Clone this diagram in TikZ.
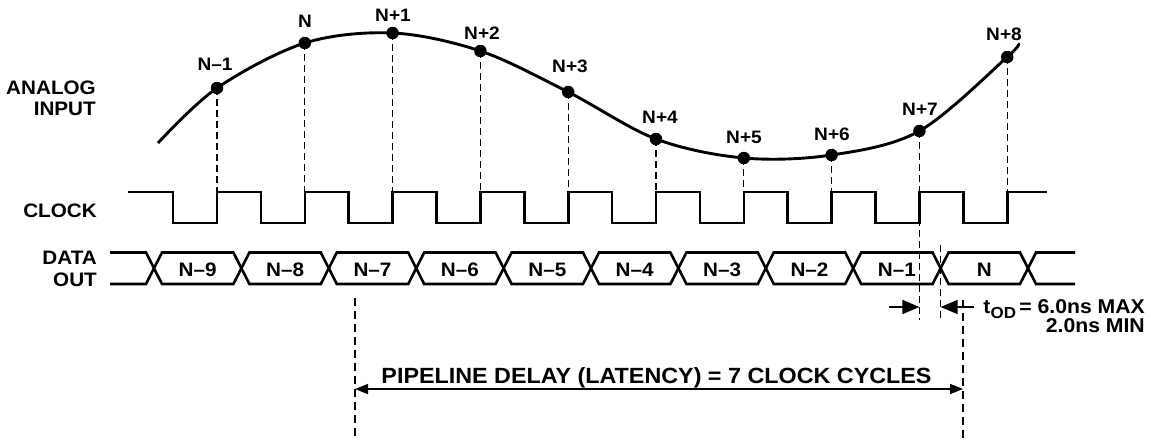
\documentclass[tikz,border=0pt]{standalone}
\usepackage{fontspec}
\setmainfont[FakeStretch=1.06]{Liberation Sans}
\usetikzlibrary{arrows.meta}
\begin{document}
\begin{tikzpicture}[x=1pt,y=-1pt,line join=miter,
  sidelbl/.style={font=\bfseries\fontsize{19.5}{22}\selectfont,inner sep=0pt,anchor=east},
  buslbl/.style={font=\bfseries\fontsize{19.5}{22}\selectfont,inner sep=0pt},
  smplbl/.style={font=\bfseries\fontsize{18}{20}\selectfont,inner sep=0pt},
  sig/.style={line width=2.6pt},
  wave/.style={line width=2.9pt},
  guide/.style={line width=1.2pt,dash pattern=on 7pt off 4pt},
  bigguide/.style={line width=1.7pt,dash pattern=on 8pt off 5pt},
  dot/.style={circle,fill=black,inner sep=0pt,minimum size=12.5pt},
  bigtip/.style={-{Triangle[length=17pt,width=14pt]}},
  ]
\useasboundingbox[fill=white] (0,0) rectangle (1151,440);

% side labels
\node[sidelbl] (analog) at (96,88) {ANALOG};
\node[sidelbl] (input) at (96,108.5) {INPUT};
\node[sidelbl] (clock) at (97,211) {CLOCK};
\node[sidelbl] (data) at (97,257.5) {DATA};
\node[sidelbl] (out) at (97,279.5) {OUT};

% analog waveform
\draw[wave] plot[smooth,tension=0.55] coordinates {(158,143) (217,88) (304.8,43) (392.6,33) (480.4,51) (568.2,92) (656,139) (743.8,158) (831.6,155) (919.4,131) (1007.2,57) (1018,44)};

% sample dots
\node[dot] (s0) at (217,88) {};
\node[dot] (s1) at (304.8,43) {};
\node[dot] (s2) at (392.6,33) {};
\node[dot] (s3) at (480.4,51) {};
\node[dot] (s4) at (568.2,92) {};
\node[dot] (s5) at (656,139) {};
\node[dot] (s6) at (743.8,158) {};
\node[dot] (s7) at (831.6,155) {};
\node[dot] (s8) at (919.4,131) {};
\node[dot] (s9) at (1007.2,57) {};

\node[smplbl] (l0) at (215,64) {N--1};
\node[smplbl] (l1) at (305,21) {N};
\node[smplbl] (l2) at (393,15) {N+1};
\node[smplbl] (l3) at (482,33) {N+2};
\node[smplbl] (l4) at (570,66) {N+3};
\node[smplbl] (l5) at (660,117) {N+4};
\node[smplbl] (l6) at (744,137) {N+5};
\node[smplbl] (l7) at (832,134) {N+6};
\node[smplbl] (l8) at (920,109) {N+7};
\node[smplbl] (l9) at (1004,34) {N+8};

% clock edge coordinates
\coordinate (r0) at (217,192);
\coordinate (r1) at (304.8,192);
\coordinate (r2) at (392.6,192);
\coordinate (r3) at (480.4,192);
\coordinate (r4) at (568.2,192);
\coordinate (r5) at (656,192);
\coordinate (r6) at (743.8,192);
\coordinate (r7) at (831.6,192);
\coordinate (r8) at (919.4,320);
\coordinate (r9) at (1007.2,192);

\foreach \i in {0,...,9} \draw[guide] (s\i.center) -- (r\i);

% clock
\draw[sig] (128,192) -- (173.1,192) -- (173.1,223) -- (217,223) -- (217,192) -- (260.9,192) -- (260.9,223) -- (304.8,223) -- (304.8,192) -- (348.7,192) -- (348.7,223) -- (392.6,223) -- (392.6,192) -- (436.5,192) -- (436.5,223) -- (480.4,223) -- (480.4,192) -- (524.3,192) -- (524.3,223) -- (568.2,223) -- (568.2,192) -- (612.1,192) -- (612.1,223) -- (656,223) -- (656,192) -- (699.9,192) -- (699.9,223) -- (743.8,223) -- (743.8,192) -- (787.7,192) -- (787.7,223) -- (831.6,223) -- (831.6,192) -- (875.5,192) -- (875.5,223) -- (919.4,223) -- (919.4,192) -- (963.3,192) -- (963.3,223) -- (1007.2,223) -- (1007.2,192) -- (1047,192);

% data bus
\draw[sig] (110,252.5) -- (146,252.5) -- (162,284) -- (233.4,284) -- (249.4,252.5) -- (320.8,252.5) -- (336.8,284) -- (408.2,284) -- (424.2,252.5) -- (495.6,252.5) -- (511.6,284) -- (583,284) -- (599,252.5) -- (670.4,252.5) -- (686.4,284) -- (757.8,284) -- (773.8,252.5) -- (845.2,252.5) -- (861.2,284) -- (932.6,284) -- (948.6,252.5) -- (1020,252.5) -- (1036,284) -- (1075,284);
\draw[sig] (110,284) -- (146,284) -- (162,252.5) -- (233.4,252.5) -- (249.4,284) -- (320.8,284) -- (336.8,252.5) -- (408.2,252.5) -- (424.2,284) -- (495.6,284) -- (511.6,252.5) -- (583,252.5) -- (599,284) -- (670.4,284) -- (686.4,252.5) -- (757.8,252.5) -- (773.8,284) -- (845.2,284) -- (861.2,252.5) -- (932.6,252.5) -- (948.6,284) -- (1020,284) -- (1036,252.5) -- (1075,252.5);

\node[buslbl] (d9) at (197.7,270) {N--9};
\node[buslbl] (d8) at (285.1,270) {N--8};
\node[buslbl] (d7) at (372.5,270) {N--7};
\node[buslbl] (d6) at (459.9,270) {N--6};
\node[buslbl] (d5) at (547.3,270) {N--5};
\node[buslbl] (d4) at (634.7,270) {N--4};
\node[buslbl] (d3) at (722.1,270) {N--3};
\node[buslbl] (d2) at (809.5,270) {N--2};
\node[buslbl] (d1) at (896.9,270) {N--1};
\node[buslbl] (d0) at (984.3,270) {N};

% tOD
\coordinate (xc) at (940.6,245);
\coordinate (xcb) at (940.6,320);
\draw[guide] (xc) -- (xcb);
\coordinate (ta) at (889,307);
\coordinate (tb) at (919.4,307);
\coordinate (tc) at (974,307);
\coordinate (td) at (940.6,307);
\draw[line width=1.7pt,bigtip] (ta) -- (tb);
\draw[line width=1.7pt,bigtip] (tc) -- (td);
\node[font=\bfseries\fontsize{20}{22}\selectfont,inner sep=0pt,anchor=base east] (tod) at (1145,313) {t\raisebox{-5pt}{\fontsize{16}{16}\selectfont OD}\,= 6.0ns MAX};
\node[font=\bfseries\fontsize{20}{22}\selectfont,inner sep=0pt,anchor=base east] (tmin) at (1145,332) {2.0ns MIN};

% latency
\coordinate (la) at (355,298);
\coordinate (lb) at (355,438);
\coordinate (lc) at (963,300);
\coordinate (ld) at (963,440);
\draw[bigguide] (la) -- (lb);
\draw[bigguide] (lc) -- (ld);
\coordinate (al) at (355,389);
\coordinate (ar) at (963,389);
\draw[line width=1.7pt,{Triangle[length=13pt,width=10pt]}-{Triangle[length=13pt,width=10pt]}] (al) -- (ar);
\node[font=\bfseries\fontsize{22}{26}\selectfont,inner sep=0pt,anchor=base] (lat) at (656.5,383) {PIPELINE DELAY (LATENCY) = 7 CLOCK CYCLES};
\end{tikzpicture}
\end{document}
